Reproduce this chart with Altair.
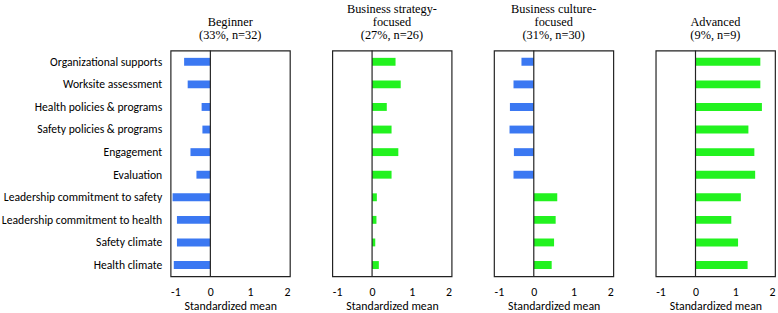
import altair as alt
import pandas as pd

categories = [
    "Organizational supports",
    "Worksite assessment",
    "Health policies & programs",
    "Safety policies & programs",
    "Engagement",
    "Evaluation",
    "Leadership commitment to safety",
    "Leadership commitment to health",
    "Safety climate",
    "Health climate",
]

beginner = [-0.66, -0.57, -0.22, -0.20, -0.50, -0.35, -0.95, -0.84, -0.84, -0.92]
strategy = [0.59, 0.72, 0.37, 0.49, 0.66, 0.49, 0.12, 0.11, 0.08, 0.17]
culture = [-0.31, -0.51, -0.60, -0.61, -0.50, -0.51, 0.59, 0.55, 0.51, 0.45]
advanced = [1.63, 1.63, 1.67, 1.33, 1.48, 1.50, 1.14, 0.90, 1.07, 1.31]

titles = [
    ["Beginner", "(33%, n=32)"],
    ["Business strategy-", "focused", "(27%, n=26)"],
    ["Business culture-", "focused", "(31%, n=30)"],
    ["Advanced", "(9%, n=9)"],
]
series = [beginner, strategy, culture, advanced]

BLUE = "#3b78f2"
GREEN = "#22f21f"
LABEL_FONT = "Carlito, Calibri, Lato"
TITLE_FONT = "Liberation Serif"


def panel(vals, title, first):
    df = pd.DataFrame({"cat": categories, "value": vals})
    df["sign"] = ["neg" if v < 0 else "pos" for v in vals]
    base = alt.Chart(df)
    bars = base.mark_bar(height=8).encode(
        x=alt.X(
            "value:Q",
            scale=alt.Scale(domain=[-1, 2], nice=False, zero=False),
            axis=alt.Axis(
                values=[-1, 0, 1, 2],
                labelExpr="'' + datum.value",
                ticks=False,
                grid=False,
                domain=False,
                labelPadding=10,
                labelFont=LABEL_FONT,
                labelFontSize=12,
                labelColor="#000",
                title="Standardized mean",
                titleFont=LABEL_FONT,
                titleFontSize=12,
                titleFontWeight="normal",
                titleColor="#000",
                titlePadding=4,
            ),
        ),
        y=alt.Y(
            "cat:N",
            sort=categories,
            axis=alt.Axis(
                title=None,
                ticks=False,
                domain=False,
                labels=first,
                labelPadding=9,
                labelFont=LABEL_FONT,
                labelFontSize=11.8,
                labelColor="#000",
                labelLimit=300,
            ),
        ),
        color=alt.Color(
            "sign:N",
            scale=alt.Scale(domain=["neg", "pos"], range=[BLUE, GREEN]),
            legend=None,
        ),
    )
    zero = alt.Chart(pd.DataFrame({"z": [0]})).mark_rule(color="#222", strokeWidth=1.2).encode(
        x=alt.X("z:Q", scale=alt.Scale(domain=[-1, 2], nice=False, zero=False))
    )
    return alt.layer(bars, zero).properties(
        width=121,
        height=229,
        title=alt.TitleParams(
            text=title,
            font=TITLE_FONT,
            fontSize=12.5,
            fontWeight="normal",
            color="#000",
            anchor="middle",
            offset=9,
            lineHeight=12.8,
        ),
    )


chart = alt.hconcat(
    *[panel(v, t, i == 0) for i, (v, t) in enumerate(zip(series, titles))],
    spacing=41,
).configure_view(
    stroke="#222", strokeWidth=1.2
).properties(
    padding={"left": 0, "top": 0, "right": 2, "bottom": 0},
    background="white",
)

chart.save("out.html", embed_options={"renderer": "svg", "actions": False})
